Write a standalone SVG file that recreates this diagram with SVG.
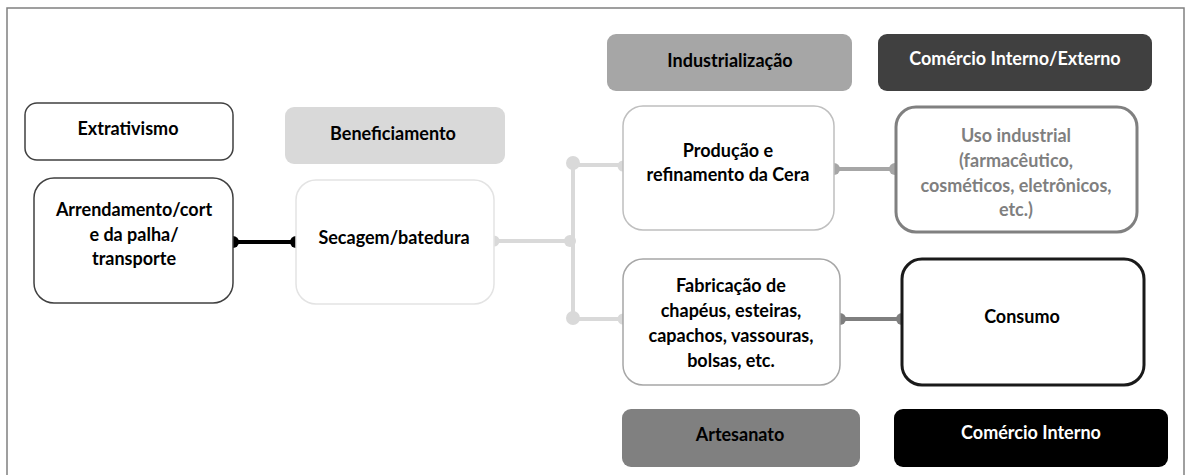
<svg xmlns="http://www.w3.org/2000/svg" width="1187" height="475" viewBox="0 0 1187 475">
<style>
.t{font-family:Lato,"Liberation Sans",sans-serif;font-weight:bold;font-size:18px;text-anchor:middle;dominant-baseline:central;fill:#000}
.w{fill:#fff}
.g{fill:#7f7f7f}
.lt{stroke:#d9d9d9;stroke-width:4;fill:none}
</style>
<rect x="7" y="8" width="1177" height="480" fill="#fff" stroke="#808080" stroke-width="1.5"/>
<g id="connectors">
  <line x1="233" y1="242" x2="296" y2="242" stroke="#000" stroke-width="4"/>
  <circle cx="233" cy="242" r="6" fill="#000"/>
  <circle cx="296" cy="242" r="6" fill="#000"/>
  <line class="lt" x1="494" y1="241" x2="573" y2="241"/>
  <line class="lt" x1="573" y1="163" x2="573" y2="319"/>
  <line class="lt" x1="573" y1="165" x2="623" y2="165"/>
  <line class="lt" x1="573" y1="319" x2="623" y2="319"/>
  <circle cx="494" cy="241" r="5.5" fill="#d9d9d9"/>
  <circle cx="570" cy="241" r="6" fill="#d9d9d9"/>
  <circle cx="573" cy="163" r="7" fill="#d9d9d9"/>
  <circle cx="573" cy="318" r="7" fill="#d9d9d9"/>
  <circle cx="623" cy="166" r="5.5" fill="#d9d9d9"/>
  <circle cx="623" cy="319" r="5.5" fill="#d9d9d9"/>
  <line x1="834" y1="169" x2="895" y2="169" stroke="#a6a6a6" stroke-width="4"/>
  <circle cx="834" cy="169" r="6" fill="#a6a6a6"/>
  <circle cx="895" cy="169" r="6" fill="#a6a6a6"/>
  <line x1="840" y1="319" x2="902" y2="319" stroke="#7f7f7f" stroke-width="4"/>
  <circle cx="840" cy="319" r="6" fill="#7f7f7f"/>
  <circle cx="902" cy="319" r="6" fill="#7f7f7f"/>
</g>
<g id="extrativismo">
  <rect x="25" y="103" width="208" height="57" rx="12" fill="#fff" stroke="#404040" stroke-width="1.5"/>
  <text class="t" x="128" y="128">Extrativismo</text>
</g>
<g id="arrendamento">
  <rect x="34" y="178" width="199" height="125" rx="20" fill="#fff" stroke="#404040" stroke-width="1.5"/>
  <text class="t" x="134" y="209">Arrendamento/cort</text>
  <text class="t" x="134" y="234">e da palha/</text>
  <text class="t" x="134" y="258">transporte</text>
</g>
<g id="beneficiamento">
  <rect x="285" y="107" width="220" height="57" rx="9" fill="#d9d9d9"/>
  <text class="t" x="393" y="133">Beneficiamento</text>
</g>
<g id="secagem">
  <rect x="296" y="180" width="198" height="124" rx="20" fill="#fff" stroke="#e3e3e3" stroke-width="1.5"/>
  <text class="t" x="394" y="237">Secagem/batedura</text>
</g>
<g id="industrializacao">
  <rect x="607" y="34" width="245" height="57" rx="9" fill="#a6a6a6"/>
  <text class="t" x="730" y="60">Industrialização</text>
</g>
<g id="comercio-ie">
  <rect x="878" y="34" width="274" height="57" rx="9" fill="#404040"/>
  <text class="t w" x="1015" y="58">Comércio Interno/Externo</text>
</g>
<g id="producao">
  <rect x="623" y="106" width="211" height="124" rx="20" fill="#fff" stroke="#bfbfbf" stroke-width="1.5"/>
  <text class="t" x="728" y="150">Produção e</text>
  <text class="t" x="728" y="174">refinamento da Cera</text>
</g>
<g id="uso-industrial">
  <rect x="896" y="107" width="241" height="125" rx="20" fill="#fff" stroke="#808080" stroke-width="3"/>
  <text class="t g" x="1016" y="135">Uso industrial</text>
  <text class="t g" x="1016" y="160">(farmacêutico,</text>
  <text class="t g" x="1016" y="185">cosméticos, eletrônicos,</text>
  <text class="t g" x="1016" y="209">etc.)</text>
</g>
<g id="fabricacao">
  <rect x="623" y="259" width="217" height="126" rx="20" fill="#fff" stroke="#a6a6a6" stroke-width="1.5"/>
  <text class="t" x="731" y="285">Fabricação de</text>
  <text class="t" x="731" y="310">chapéus, esteiras,</text>
  <text class="t" x="731" y="335">capachos, vassouras,</text>
  <text class="t" x="731" y="360">bolsas, etc.</text>
</g>
<g id="consumo">
  <rect x="902" y="259" width="242" height="126" rx="20" fill="#fff" stroke="#1a1a1a" stroke-width="3"/>
  <text class="t" x="1022" y="316">Consumo</text>
</g>
<g id="artesanato">
  <rect x="622" y="409" width="238" height="58" rx="9" fill="#808080"/>
  <text class="t" x="740" y="434">Artesanato</text>
</g>
<g id="comercio-interno">
  <rect x="894" y="409" width="274" height="58" rx="9" fill="#000"/>
  <text class="t w" x="1031" y="432">Comércio Interno</text>
</g>
</svg>
